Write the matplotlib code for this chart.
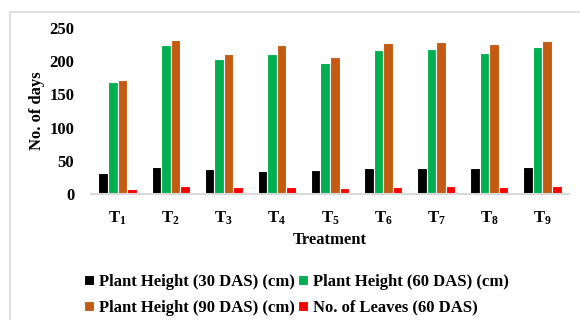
import numpy as np
import matplotlib
matplotlib.use('Agg')
import matplotlib.pyplot as plt
from matplotlib.patches import Rectangle

treatments = ['1', '2', '3', '4', '5', '6', '7', '8', '9']
height_30 = [32, 41, 38, 35, 36, 39, 39, 39, 40]
height_60 = [168, 224, 203, 211, 197, 217, 219, 213, 221]
height_90 = [171, 232, 211, 224, 207, 228, 229, 226, 231]
leaves_60 = [8, 12, 10, 10, 9, 11, 12, 11, 12]

series = [
    ('Plant Height (30 DAS) (cm)', height_30, '#000000'),
    ('Plant Height (60 DAS) (cm)', height_60, '#00B050'),
    ('Plant Height (90 DAS) (cm)', height_90, '#C55A11'),
    ('No. of Leaves (60 DAS)', leaves_60, '#FF0000'),
]

plt.rcParams['font.family'] = ['Liberation Serif', 'DejaVu Serif']
plt.rcParams['font.weight'] = 'bold'
plt.rcParams['mathtext.fontset'] = 'custom'
plt.rcParams['mathtext.rm'] = 'Liberation Serif:bold'
plt.rcParams['mathtext.bf'] = 'Liberation Serif:bold'
plt.rcParams['mathtext.it'] = 'Liberation Serif:bold'

fig = plt.figure(figsize=(5.8, 3.2), dpi=100)
fig.patches.append(Rectangle((10 / 580, -0.1), 1.2, 1 - 12 / 320 + 0.1,
                             transform=fig.transFigure, fill=False,
                             edgecolor='#D9D9D9', linewidth=1.2))
ax = fig.add_axes([91 / 580, 1 - 194 / 320, 478 / 580, 166 / 320])

x = np.arange(len(treatments))
w = 0.18
bars = []
for i, (name, vals, col) in enumerate(series):
    b = ax.bar(x + (i - 1.5) * w, vals, width=w, color=col, edgecolor='white',
               linewidth=0.8, label=name, zorder=2)
    bars.append(b)

ax.set_xlim(-0.5, len(treatments) - 0.5)
ax.set_ylim(0, 250)
ax.set_yticks(range(0, 251, 50))
ax.set_xticks(x)
ax.set_xticklabels([r'$\mathrm{T}_{\mathrm{' + t + '}}$' for t in treatments], fontsize=12)
ax.tick_params(axis='y', length=0, pad=12, labelsize=12)
ax.tick_params(axis='x', length=0, pad=11)
for s in ['top', 'right', 'left']:
    ax.spines[s].set_visible(False)
ax.spines['bottom'].set_color('#D9D9D9')
ax.spines['bottom'].set_linewidth(1.5)
ax.set_ylabel('No. of days', fontsize=12, fontweight='bold', labelpad=3)
ax.set_xlabel('Treatment', fontsize=12, fontweight='bold', labelpad=4)

# row-major order in the legend: 30, 60 / 90, leaves
order = [0, 2, 1, 3]
ax.legend([bars[i] for i in order], [series[i][0] for i in order],
          loc='upper center', bbox_to_anchor=(0.43, -0.39), ncol=2, frameon=False,
          fontsize=12, handlelength=0.6, handleheight=0.6, handletextpad=0.3,
          columnspacing=0.2, labelspacing=0.6)

fig.savefig('out.png', dpi=100)
